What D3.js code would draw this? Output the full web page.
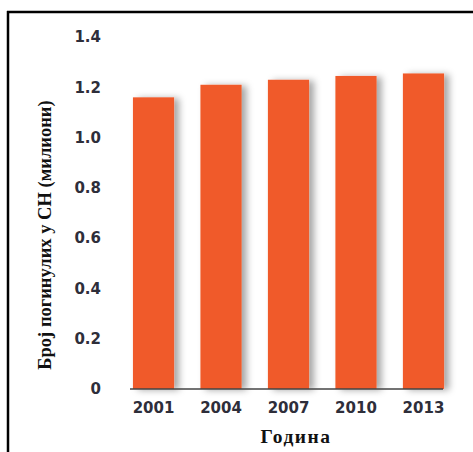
<!DOCTYPE html>
<html>
<head>
<meta charset="utf-8">
<script src="https://cdn.jsdelivr.net/npm/d3@7"></script>
<style>
  body { margin: 0; background: #fff; }
  svg { display: block; }
</style>
</head>
<body>
<div id="vis"></div>
<script>
const years = ["2001", "2004", "2007", "2010", "2013"];
const deaths = [1.16, 1.21, 1.23, 1.245, 1.255];
const yTicks = [0, 0.2, 0.4, 0.6, 0.8, 1.0, 1.2, 1.4];

const FRAME_WIDTH = 473;
const FRAME_HEIGHT = 452;

const svg = d3.select('#vis')
  .append('svg')
  .attr('width', FRAME_WIDTH)
  .attr('height', FRAME_HEIGHT);

// soft shadow to the right of each bar
const defs = svg.append('defs');
const shadow = defs.append('filter')
  .attr('id', 'shadow')
  .attr('x', '-20%').attr('y', '-20%')
  .attr('width', '160%').attr('height', '140%');
shadow.append('feDropShadow')
  .attr('dx', 5).attr('dy', 1)
  .attr('stdDeviation', 3.5)
  .attr('flood-color', '#000')
  .attr('flood-opacity', 0.35);

// frame (top and left edges)
svg.append('line')
  .attr('x1', 7).attr('x2', FRAME_WIDTH)
  .attr('y1', 12).attr('y2', 12)
  .attr('stroke', '#000').attr('stroke-width', 2.5);
svg.append('line')
  .attr('x1', 8).attr('x2', 8)
  .attr('y1', 11).attr('y2', FRAME_HEIGHT)
  .attr('stroke', '#000').attr('stroke-width', 2.5);

const X_SCALE = d3.scaleBand()
  .domain(years)
  .range([110, 467])
  .paddingInner(0.39)
  .paddingOuter(0.34);

const Y_SCALE = d3.scaleLinear()
  .domain([0, 1.4])
  .range([389, 37]);

// bars
svg.append('g')
  .selectAll('rect')
  .data(deaths)
  .enter()
  .append('rect')
    .attr('x', (d, i) => X_SCALE(years[i]))
    .attr('y', d => Y_SCALE(d))
    .attr('width', X_SCALE.bandwidth())
    .attr('height', d => Y_SCALE(0) - Y_SCALE(d))
    .attr('fill', '#F05A2B')
    .attr('filter', 'url(#shadow)');

// x axis
const xAxis = svg.append('g')
  .attr('transform', 'translate(0,' + Y_SCALE(0) + ')')
  .call(d3.axisBottom(X_SCALE).tickSize(0).tickPadding(13));
xAxis.select('.domain')
  .attr('d', 'M130,0H443')
  .attr('stroke', '#444')
  .attr('stroke-width', 1.3);
xAxis.selectAll('text')
  .attr('font-family', 'DejaVu Sans')
  .attr('font-weight', 'bold')
  .attr('font-size', '15px')
  .attr('fill', '#2e2e3a');

// y axis (labels only)
const yAxis = svg.append('g')
  .attr('transform', 'translate(101,0)')
  .call(d3.axisLeft(Y_SCALE).tickValues(yTicks).tickSize(0).tickPadding(0)
    .tickFormat(d => d === 0 ? '0' : d3.format('.1f')(d)));
yAxis.select('.domain').remove();
yAxis.selectAll('text')
  .attr('font-family', 'DejaVu Sans')
  .attr('font-weight', 'bold')
  .attr('font-size', '15px')
  .attr('fill', '#2e2e3a');

// axis titles
svg.append('text')
  .attr('x', 296)
  .attr('y', 443)
  .attr('text-anchor', 'middle')
  .attr('font-family', 'Liberation Serif')
  .attr('font-weight', 'bold')
  .attr('font-size', '19.5px')
  .attr('letter-spacing', '1.5px')
  .attr('fill', '#111')
  .text('Година');

svg.append('text')
  .attr('transform', 'translate(51,235) rotate(-90)')
  .attr('text-anchor', 'middle')
  .attr('font-family', 'Liberation Serif')
  .attr('font-weight', 'bold')
  .attr('font-size', '18.5px')
  .attr('fill', '#111')
  .text('Број погинулих у СН (милиони)');
</script>
</body>
</html>
